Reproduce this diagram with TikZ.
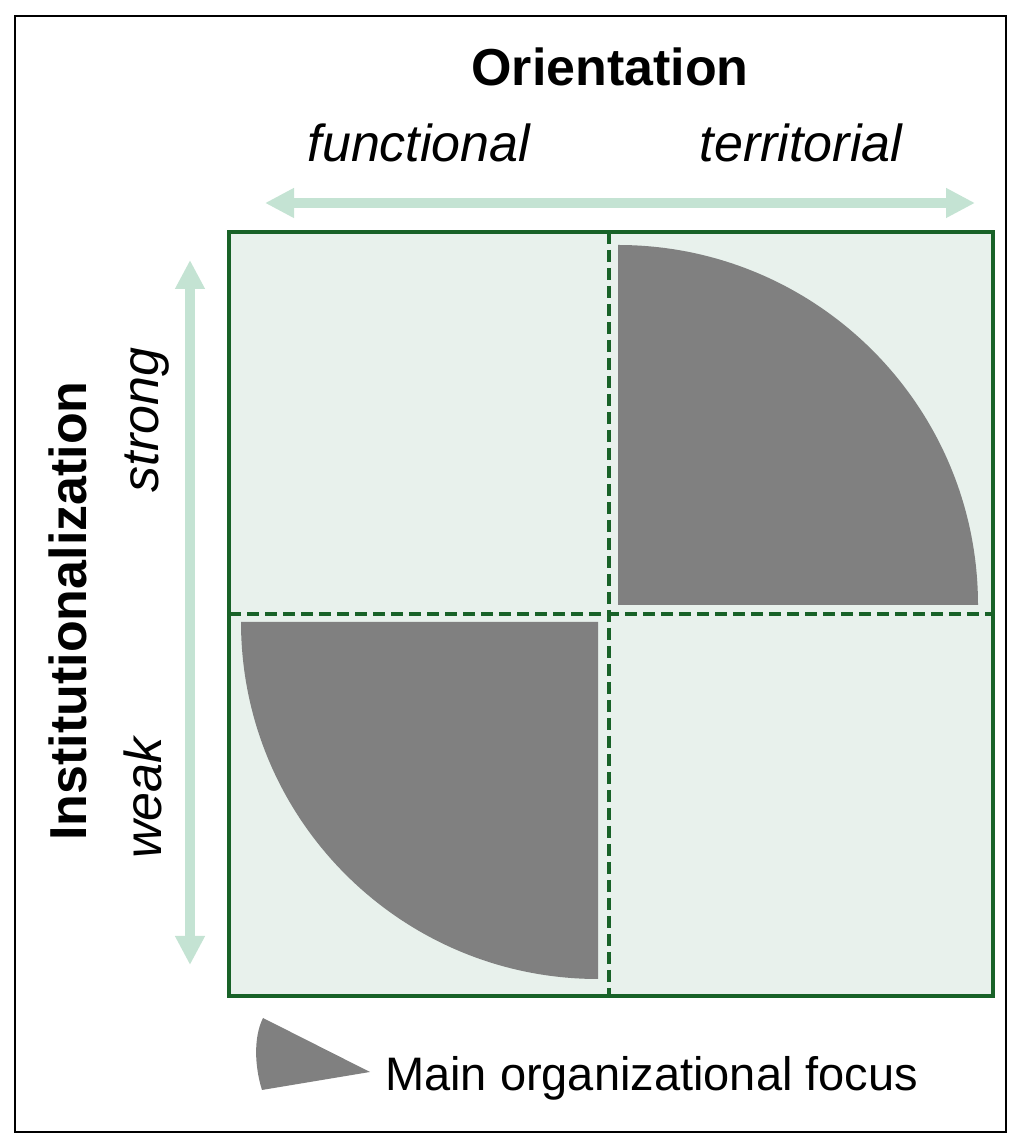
\documentclass[tikz,border=0pt]{standalone}
\usepackage{fontspec}
\setmainfont{Liberation Sans}
\usetikzlibrary{arrows.meta}
\definecolor{boxfill}{HTML}{E8F1EC}
\definecolor{boxgreen}{HTML}{186228}
\definecolor{mint}{HTML}{C4E3D3}
\definecolor{focusgray}{HTML}{808080}
\tikzset{
  axisarrow/.style={draw=mint, line width=10pt, {Triangle[width=28pt,length=29pt]}-{Triangle[width=28pt,length=29pt]}},
  bigbold/.style={font=\fontsize{52}{60}\selectfont\bfseries, inner sep=0pt},
  bigital/.style={font=\fontsize{52}{60}\selectfont\itshape, inner sep=0pt},
  legendtext/.style={font=\fontsize{47}{56}\selectfont, inner sep=0pt},
  divider/.style={draw=boxgreen, line width=3.5pt, dash pattern=on 12pt off 6pt},
  focus/.style={fill=focusgray, draw=none}
}
\begin{document}
\begin{tikzpicture}[x=1pt,y=1pt]
\useasboundingbox (0,0) rectangle (1024,1148);
% outer frame
\draw[line width=2pt] (15,16) rectangle (1006,1132);
% main box
\fill[boxfill] (229,152) rectangle (993,916);
% quarters of focus
\fill[focus] (618,543) -- ++(0,360) arc[start angle=90,end angle=0,radius=360] -- cycle;
\fill[focus] (598,526) -- ++(-357,0) arc[start angle=180,end angle=270,radius=357] -- cycle;
% dividers
\coordinate (vt) at (609,916);
\coordinate (vb) at (609,152);
\coordinate (hl) at (229,534);
\coordinate (hr) at (993,534);
\draw[divider] (vt) -- (vb);
\draw[divider] (hl) -- (hr);
\draw[boxgreen, line width=4pt] (229,152) rectangle (993,916);
% axis arrows
\coordinate (hL) at (265,945);
\coordinate (hR) at (975,945);
\coordinate (vT) at (190,888);
\coordinate (vB) at (190,183);
\draw[axisarrow] (hL) -- (hR);
\draw[axisarrow] (vB) -- (vT);
% labels
\node[bigbold, anchor=base] (orient) at (610,1062) {Orientation};
\node[bigital, anchor=base] (func) at (419,986) {functional};
\node[bigital, anchor=base] (terr) at (801,986) {territorial};
\node[bigbold, anchor=base, rotate=90] (inst) at (86,537) {Institutionalization};
\node[bigital, anchor=base, rotate=90] (strong) at (158,728) {strong};
\node[bigital, anchor=base, rotate=90] (weak) at (161,350) {weak};
% legend
\fill[focus] (370,76) -- (263,130) .. controls (253,110) and (255,80) .. (262,58) -- cycle;
\node[legendtext, anchor=base west] (legend) at (385,57) {Main organizational focus};
\end{tikzpicture}
\end{document}
